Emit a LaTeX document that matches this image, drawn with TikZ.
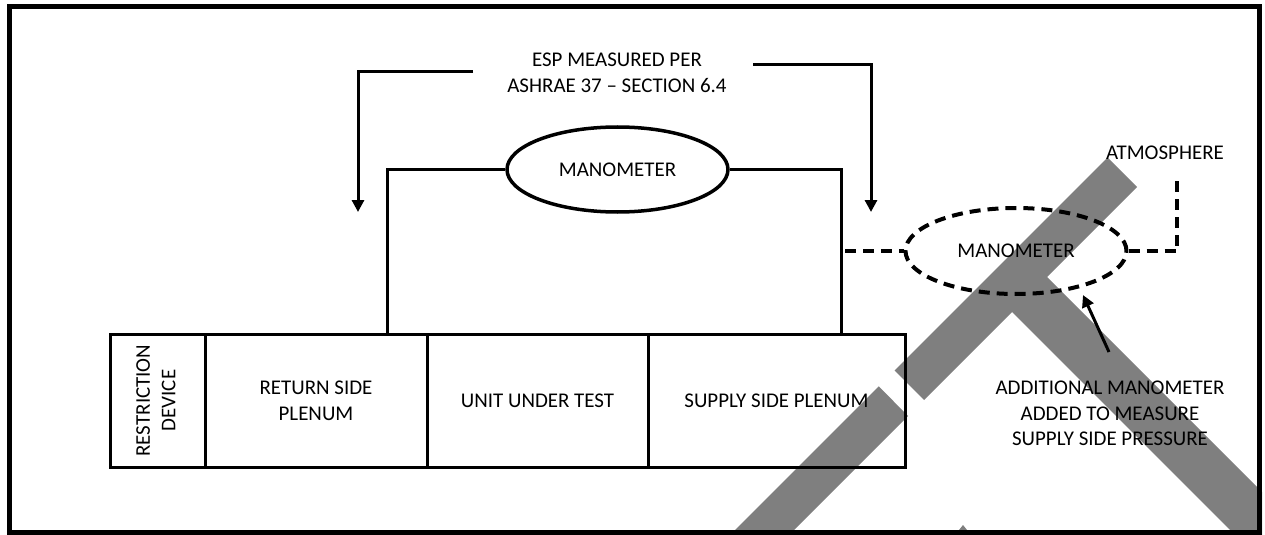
\documentclass[tikz,border=0pt]{standalone}
\usepackage{fontspec}
\usepackage{graphicx}
\setmainfont{Carlito}
\usetikzlibrary{arrows.meta}
\usetikzlibrary{positioning}
\usetikzlibrary{shapes.geometric}
\newlength{\px}
\setlength{\px}{0.75pt}
\definecolor{bandgray}{RGB}{127,127,127}
\pgfdeclarelayer{background}
\pgfsetlayers{background,main}

\tikzset{
    box/.style={draw, line width=3\px, inner sep=0pt, outer sep=0pt, minimum height=133\px, align=center},
    gauge/.style={ellipse, draw, line width=3.5\px, inner sep=0pt, minimum width=221\px, minimum height=85\px},
    pipe/.style={line width=3\px},
    dashpipe/.style={line width=4\px, dash pattern=on 11\px off 7\px},
    pointer/.style={line width=3\px, -{Triangle[length=9pt,width=9pt]}},
}

\begin{document}
\begin{tikzpicture}[x=0.75pt, y=-0.75pt, font=\fontsize{15.7pt}{19.2pt}\selectfont]
    \useasboundingbox (0,0) rectangle (1265,535);

    % the rig, left to right
    \node (rdev) [box, minimum width=95\px] at (157.5,400.5) {\rotatebox{90}{\begin{tabular}{@{}c@{}}RESTRICTION\\DEVICE\end{tabular}}};
    \node (ret) [box, minimum width=222\px, right=0pt of rdev] {RETURN SIDE\\PLENUM};
    \node (uut) [box, minimum width=221\px, right=0pt of ret] {UNIT UNDER TEST};
    \node (sup) [box, minimum width=257\px, right=0pt of uut] {SUPPLY SIDE PLENUM};

    % ESP manometer across the unit
    \node (mano) [gauge] at (617.5,169.5) {MANOMETER};
    \node (esp) [align=center] at (617,72.5) {ESP MEASURED PER\\ASHRAE 37 -- SECTION 6.4};
    \coordinate (retport) at (387,334);
    \coordinate (support) at (841,334);
    \draw[pipe] (retport) |- (mano.west);
    \draw[pipe] (mano.east) -| (support);

    \coordinate (espl) at (473,72);
    \coordinate (espltip) at (358,212);
    \coordinate (espr) at (753,65);
    \coordinate (esprtip) at (871,212);
    \draw[pointer] (espl) -| (espltip);
    \draw[pointer] (espr) -| (esprtip);

    % supply side manometer, open to atmosphere
    \node (mano2) [gauge, dashpipe, minimum height=86\px] at (1016,251) {MANOMETER};
    \node (atm) at (1165,153) {ATMOSPHERE};
    \coordinate (tap) at (845,251);
    \coordinate (atmend) at (1177,180);
    \draw[dashpipe] (tap) -- (mano2.west);
    \draw[dashpipe] (mano2.east) -| (atmend);

    \node (note) [align=center] at (1110,413.5) {ADDITIONAL MANOMETER\\ADDED TO MEASURE\\SUPPLY SIDE PRESSURE};
    \coordinate (notetail) at (1109,352);
    \coordinate (notetip) at (1083,295);
    \draw[pointer] (notetail) -- (notetip);

    \begin{pgfonlayer}{background}
        \fill[bandgray] (1107.5,157.5) -- (1137,187) -- (924,400) -- (894.5,370.5) -- cycle;
        \fill[bandgray] (878.75,386.25) -- (908,416) -- (789,535) -- (730,535) -- cycle;
        \fill[bandgray] (1005,305) -- (1040,270) -- (1262,492) -- (1262,535) -- (1235,535) -- cycle;
        \fill[bandgray] (955,535) -- (963,525) -- (971,535) -- cycle;
    \end{pgfonlayer}

    \draw[line width=5\px] (9.5,6.5) rectangle (1259.5,532.5);
\end{tikzpicture}
\end{document}
